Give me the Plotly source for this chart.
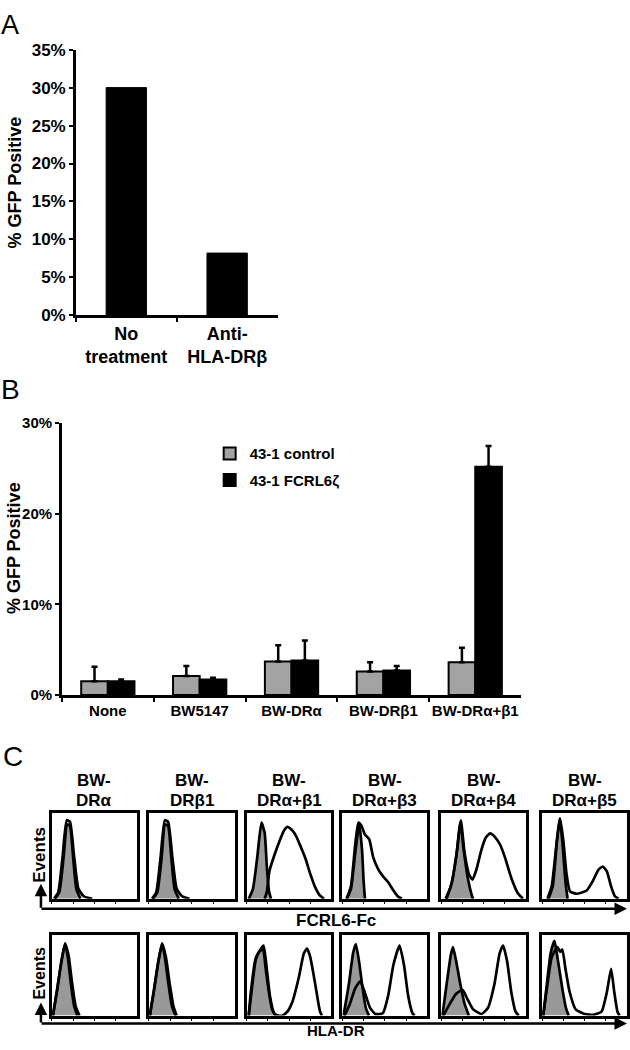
import plotly.graph_objects as go

W, H = 630, 1050
# small vertical calibration so that reference pixel rows land where they should in the screenshot
Y_OFF, Y_SCALE = 8.3, 0.983
def fx(p): return p / W
def fy(p): return 1 - ((p - Y_OFF) / Y_SCALE) / H

FONT = "Liberation Sans, Arial, sans-serif"

# ---------------- Panel A data ----------------
a_categories = ["No<br>treatment", "Anti-<br>HLA-DRβ"]
a_values = [30.0, 8.2]
a_yticks = [0, 5, 10, 15, 20, 25, 30, 35]

# ---------------- Panel B data ----------------
b_categories = ["None", "BW5147", "BW-DRα", "BW-DRβ1", "BW-DRα+β1"]
b_control = [1.5, 2.1, 3.7, 2.6, 3.6]
b_control_top = [3.1, 3.2, 5.5, 3.6, 5.2]
b_fcrl6 = [1.5, 1.7, 3.8, 2.7, 25.2]
b_fcrl6_top = [1.7, 1.9, 6.0, 3.2, 27.5]
b_yticks = [0, 10, 20, 30]
b_names = ["43-1 control", "43-1 FCRL6ζ"]

# ---------------- Panel C data (log10 decade, relative count) ----------------
c_columns = ["DRα", "DRβ1", "DRα+β1", "DRα+β3", "DRα+β4", "DRα+β5"]
c_rows = ["FCRL6-Fc", "HLA-DR"]
c_xticks = [0, 1, 2, 3]

# FCRL6-Fc row: control (grey) and stained (open)
fc_dra_ctrl = [(0.15, 0), (0.35, 0.08), (0.55, 0.5), (0.72, 0.9), (0.85, 0.88), (1.0, 0.5), (1.15, 0.12), (1.35, 0)]
fc_dra_stain = [(0.1, 0), (0.3, 0.08), (0.5, 0.5), (0.7, 0.95), (0.85, 0.93), (1.05, 0.5), (1.25, 0.12), (1.5, 0.03), (1.9, 0)]
fc_drb1_ctrl = [(0.2, 0), (0.4, 0.08), (0.6, 0.5), (0.76, 0.9), (0.9, 0.88), (1.05, 0.5), (1.2, 0.12), (1.4, 0)]
fc_drb1_stain = [(0.15, 0), (0.35, 0.08), (0.55, 0.5), (0.75, 0.95), (0.9, 0.93), (1.1, 0.5), (1.3, 0.12), (1.55, 0.03), (1.9, 0)]
fc_b1_ctrl = [(0.1, 0), (0.3, 0.12), (0.5, 0.5), (0.7, 0.92), (0.85, 0.8), (0.95, 0.4), (1.05, 0.1), (1.15, 0)]
fc_b1_stain = [(0.85, 0), (0.95, 0.08), (1.08, 0.34), (1.3, 0.52), (1.54, 0.69), (1.75, 0.82), (1.92, 0.87), (2.1, 0.84),
               (2.31, 0.77), (2.55, 0.63), (2.77, 0.49), (3.0, 0.3), (3.23, 0.14), (3.45, 0.04), (3.65, 0)]
fc_b3_ctrl = [(0.2, 0), (0.4, 0.12), (0.6, 0.55), (0.79, 0.9), (0.92, 0.6), (1.0, 0.2), (1.06, 0)]
fc_b3_stain = [(0.2, 0), (0.4, 0.15), (0.6, 0.65), (0.75, 0.92), (0.9, 0.88), (1.05, 0.78), (1.26, 0.72), (1.45, 0.5),
               (1.7, 0.35), (1.95, 0.26), (2.18, 0.19), (2.4, 0.1), (2.6, 0.03), (2.8, 0)]
fc_b4_ctrl = [(0.2, 0), (0.45, 0.15), (0.7, 0.5), (0.9, 0.93), (1.05, 0.6), (1.25, 0.25), (1.45, 0.03), (1.5, 0)]
fc_b4_stain = [(0.25, 0), (0.5, 0.2), (0.75, 0.6), (0.92, 0.95), (1.1, 0.55), (1.3, 0.3), (1.47, 0.23), (1.65, 0.35),
               (1.9, 0.6), (2.1, 0.74), (2.3, 0.79), (2.55, 0.74), (2.78, 0.65), (3.0, 0.5), (3.3, 0.25), (3.6, 0.07), (3.85, 0)]
fc_b5_ctrl = [(0.25, 0), (0.45, 0.15), (0.65, 0.6), (0.82, 0.97), (0.95, 0.7), (1.1, 0.2), (1.2, 0)]
fc_b5_stain = [(0.3, 0), (0.5, 0.15), (0.7, 0.7), (0.85, 0.97), (1.0, 0.7), (1.15, 0.3), (1.31, 0.09), (1.63, 0.06),
               (2.1, 0.1), (2.4, 0.22), (2.65, 0.35), (2.86, 0.39), (3.05, 0.33), (3.25, 0.15), (3.43, 0.03), (3.6, 0)]

# HLA-DR row
dr_dra_ctrl = [(0.05, 0), (0.25, 0.35), (0.45, 0.7), (0.62, 0.92), (0.75, 0.75), (0.9, 0.4), (1.05, 0.12), (1.2, 0)]
dr_dra_stain = [(0.05, 0), (0.25, 0.33), (0.45, 0.7), (0.62, 0.93), (0.78, 0.78), (0.95, 0.42), (1.12, 0.12), (1.3, 0)]
dr_drb1_ctrl = [(0.05, 0), (0.25, 0.35), (0.45, 0.7), (0.62, 0.92), (0.75, 0.75), (0.92, 0.4), (1.08, 0.12), (1.25, 0)]
dr_drb1_stain = [(0.05, 0), (0.25, 0.33), (0.45, 0.7), (0.62, 0.93), (0.8, 0.75), (0.98, 0.4), (1.15, 0.12), (1.3, 0)]
dr_b1_ctrl = [(0.1, 0), (0.2, 0.3), (0.4, 0.7), (0.6, 0.82), (0.77, 0.86), (0.9, 0.6), (1.05, 0.3), (1.2, 0.08), (1.35, 0)]
dr_b1_stain = [(0.1, 0), (0.25, 0.35), (0.45, 0.75), (0.65, 0.85), (0.8, 0.9), (0.95, 0.6), (1.1, 0.25), (1.3, 0.03),
               (1.5, 0), (1.7, 0), (1.95, 0.06), (2.15, 0.17), (2.46, 0.49), (2.7, 0.8), (2.85, 0.86), (3.0, 0.75),
               (3.23, 0.41), (3.46, 0.05), (3.55, 0)]
dr_b3_ctrl = [(0.05, 0), (0.3, 0.4), (0.5, 0.8), (0.63, 0.92), (0.78, 0.7), (0.95, 0.35), (1.1, 0.1), (1.25, 0)]
dr_b3_stain = [(0.1, 0), (0.35, 0.15), (0.6, 0.35), (0.84, 0.44), (1.05, 0.3), (1.3, 0.1), (1.55, 0.02), (1.9, 0.03),
               (2.15, 0.25), (2.4, 0.65), (2.69, 0.9), (2.9, 0.65), (3.1, 0.25), (3.3, 0.03), (3.4, 0)]
dr_b4_ctrl = [(0.05, 0), (0.25, 0.4), (0.45, 0.78), (0.55, 0.88), (0.7, 0.7), (0.9, 0.4), (1.1, 0.15), (1.3, 0)]
dr_b4_stain = [(0.1, 0), (0.4, 0.15), (0.7, 0.28), (1.0, 0.33), (1.25, 0.2), (1.5, 0.08), (1.9, 0.02), (2.2, 0.1),
               (2.5, 0.4), (2.75, 0.8), (2.91, 0.9), (3.1, 0.7), (3.3, 0.3), (3.5, 0.05), (3.65, 0)]
dr_b5_ctrl = [(0.05, 0), (0.2, 0.35), (0.4, 0.8), (0.58, 0.96), (0.75, 0.7), (0.95, 0.35), (1.12, 0.1), (1.25, 0)]
dr_b5_stain = [(0.05, 0), (0.25, 0.4), (0.45, 0.75), (0.72, 0.88), (0.85, 0.82), (0.95, 0.85), (1.1, 0.6), (1.3, 0.3),
               (1.58, 0.08), (2.0, 0.02), (2.42, 0.01), (2.8, 0.05), (3.05, 0.3), (3.25, 0.6), (3.4, 0.3), (3.55, 0.05), (3.65, 0)]

c_ctrl = [[fc_dra_ctrl, fc_drb1_ctrl, fc_b1_ctrl, fc_b3_ctrl, fc_b4_ctrl, fc_b5_ctrl],
          [dr_dra_ctrl, dr_drb1_ctrl, dr_b1_ctrl, dr_b3_ctrl, dr_b4_ctrl, dr_b5_ctrl]]
c_stain = [[fc_dra_stain, fc_drb1_stain, fc_b1_stain, fc_b3_stain, fc_b4_stain, fc_b5_stain],
           [dr_dra_stain, dr_drb1_stain, dr_b1_stain, dr_b3_stain, dr_b4_stain, dr_b5_stain]]

GREY = "#a3a3a3"
HGREY = "#999999"

fig = go.Figure()

# ---- Panel A ----
fig.add_trace(go.Bar(x=a_categories, y=a_values, width=0.4, marker=dict(color="black", line=dict(color="black", width=1)),
                     xaxis="x", yaxis="y", showlegend=False))

# ---- Panel B ----
fig.add_trace(go.Bar(x=b_categories, y=b_control, name=b_names[0], xaxis="x2", yaxis="y2",
                     marker=dict(color=GREY, line=dict(color="black", width=2)), legendgroup="g1",
                     error_y=dict(type="data", symmetric=False, array=[t - v for t, v in zip(b_control_top, b_control)],
                                  arrayminus=[0] * len(b_control), color="black", thickness=2.5, width=3)))
fig.add_trace(go.Bar(x=b_categories, y=b_fcrl6, name=b_names[1], xaxis="x2", yaxis="y2",
                     marker=dict(color="black", line=dict(color="black", width=2)), legendgroup="g2",
                     error_y=dict(type="data", symmetric=False, array=[t - v for t, v in zip(b_fcrl6_top, b_fcrl6)],
                                  arrayminus=[0] * len(b_fcrl6), color="black", thickness=2.5, width=3)))

# ---- Panel C ----
col_px = [(52, 137), (149, 235), (247, 332), (343, 428), (442, 527), (543, 628)]
row_px = [(813, 899), (935, 1016)]

layout_axes = {}
for r in range(2):
    for c in range(6):
        k = 3 + r * 6 + c
        xa, ya = f"x{k}", f"y{k}"
        ctrl = c_ctrl[r][c]
        stain = c_stain[r][c]
        fig.add_trace(go.Scatter(x=[p[0] for p in ctrl], y=[p[1] for p in ctrl], mode="lines",
                                 line=dict(color="black", width=2.7, shape="spline", smoothing=0.5),
                                 fill="tozeroy", fillcolor=HGREY, xaxis=xa, yaxis=ya, showlegend=False))
        fig.add_trace(go.Scatter(x=[p[0] for p in stain], y=[p[1] for p in stain], mode="lines",
                                 line=dict(color="black", width=2.7, shape="spline", smoothing=0.5),
                                 xaxis=xa, yaxis=ya, showlegend=False))
        layout_axes[f"xaxis{k}"] = dict(domain=[fx(col_px[c][0]), fx(col_px[c][1])], anchor=ya, range=[0, 4],
                                        showline=True, mirror=True, linecolor="black", linewidth=2.5,
                                        ticks="outside", ticklen=3, tickwidth=1, tickcolor="black",
                                        tickvals=c_xticks, showticklabels=False, showgrid=False, zeroline=False)
        layout_axes[f"yaxis{k}"] = dict(domain=[fy(row_px[r][1]), fy(row_px[r][0])], anchor=xa, range=[0, 1.04],
                                        showline=True, mirror=True, linecolor="black", linewidth=2.5,
                                        ticks="", showticklabels=False, showgrid=False, zeroline=False)

tickfontA = dict(family=FONT, size=17, color="black", weight="bold")
tickfontB = dict(family=FONT, size=15, color="black", weight="bold")

fig.update_layout(
    width=W, height=H, margin=dict(l=0, r=0, t=0, b=0),
    paper_bgcolor="white", plot_bgcolor="white",
    font=dict(family=FONT, color="black"),
    barmode="group", bargap=0.42, bargroupgap=0,
    xaxis=dict(domain=[fx(76), fx(278)], anchor="y", showline=True, linecolor="black", linewidth=2.5,
               ticks="outside", tickson="boundaries", ticklen=4, tickwidth=2, tickcolor="black", tickangle=0,
               tickfont=dict(family=FONT, size=18, color="black", weight="bold"), showgrid=False, zeroline=False),
    yaxis=dict(domain=[fy(315), fy(49)], anchor="x", range=[0, 35], tickvals=a_yticks,
               ticktext=[f"{v}%" for v in a_yticks],
               showline=True, linecolor="black", linewidth=2.5, ticks="outside", ticklen=4, tickwidth=2,
               tickcolor="black", tickfont=tickfontA, showgrid=False, zeroline=False),
    xaxis2=dict(domain=[fx(62), fx(522)], anchor="y2", showline=True, linecolor="black", linewidth=2.5,
                ticks="outside", tickson="boundaries", ticklen=4, tickwidth=2, tickcolor="black", tickangle=0,
                tickfont=tickfontB, showgrid=False, zeroline=False),
    yaxis2=dict(domain=[fy(695), fy(423)], anchor="x2", range=[0, 30], tickvals=b_yticks,
                ticktext=[f"{v}%" for v in b_yticks],
                showline=True, linecolor="black", linewidth=2.5, ticks="outside", ticklen=4, tickwidth=2,
                tickcolor="black", tickfont=tickfontB, showgrid=False, zeroline=False),
    legend=dict(x=fx(210), y=fy(437), xanchor="left", yanchor="top", bgcolor="rgba(0,0,0,0)",
                font=dict(family=FONT, size=15, color="black", weight="bold"), tracegroupgap=4,
                itemwidth=30),
    **layout_axes,
)

ann = []
def label(text, x, y, size, bold=True, angle=0, xanchor="center", yanchor="middle", yval=None):
    ann.append(dict(text=text, x=fx(x), y=fy(y) if yval is None else yval, xref="paper", yref="paper",
                    showarrow=False, textangle=angle, xanchor=xanchor, yanchor=yanchor, borderpad=0,
                    font=dict(family=FONT, size=size, color="black", weight="bold" if bold else "normal")))

label("A", 0, 0, 27, bold=False, xanchor="left", yanchor="top", yval=1.0)
label("B", 0, 389, 28, bold=False, xanchor="left")
label("C", 2, 757, 28, bold=False, xanchor="left")
label("% GFP Positive", 15, 182, 18, angle=-90)
label("% GFP Positive", 14, 548, 18, angle=-90)

for c in range(6):
    cx = (col_px[c][0] + col_px[c][1]) / 2
    label("BW-", cx, 781, 17)
    label(c_columns[c], cx, 801, 17)

label("Events", 40, 855, 17, angle=-90)
label("Events", 40, 973, 16, angle=-90)
label(c_rows[0], 337, 921, 17)
label(c_rows[1], 337, 0, 15, yanchor="bottom", yval=0.0)

# axis arrows (pixel offsets scaled with the same vertical calibration)
for ybase, ytip in [(909, 884), (1024, 1003)]:
    ann.append(dict(x=fx(628), y=fy(ybase), xref="paper", yref="paper", ax=-(628 - 41), ay=0, text="",
                    showarrow=True, arrowhead=2, arrowsize=1, arrowwidth=2.5, arrowcolor="black", standoff=0))
    ann.append(dict(x=fx(41), y=fy(ytip), xref="paper", yref="paper", ax=0, ay=(ybase - ytip) / Y_SCALE, text="",
                    showarrow=True, arrowhead=2, arrowsize=1, arrowwidth=2.5, arrowcolor="black", standoff=0))

fig.update_layout(annotations=ann)
fig.write_html(
    "out.html", config={"displayModeBar": False},
    post_script=("document.documentElement.style.margin='0';document.body.style.margin='0';"
                 "document.documentElement.style.overflow='hidden';document.body.style.overflow='hidden';"
                 "var d=document.getElementById('{plot_id}');d.style.position='fixed';"
                 "d.style.left='0px';d.style.top='0px';"))
